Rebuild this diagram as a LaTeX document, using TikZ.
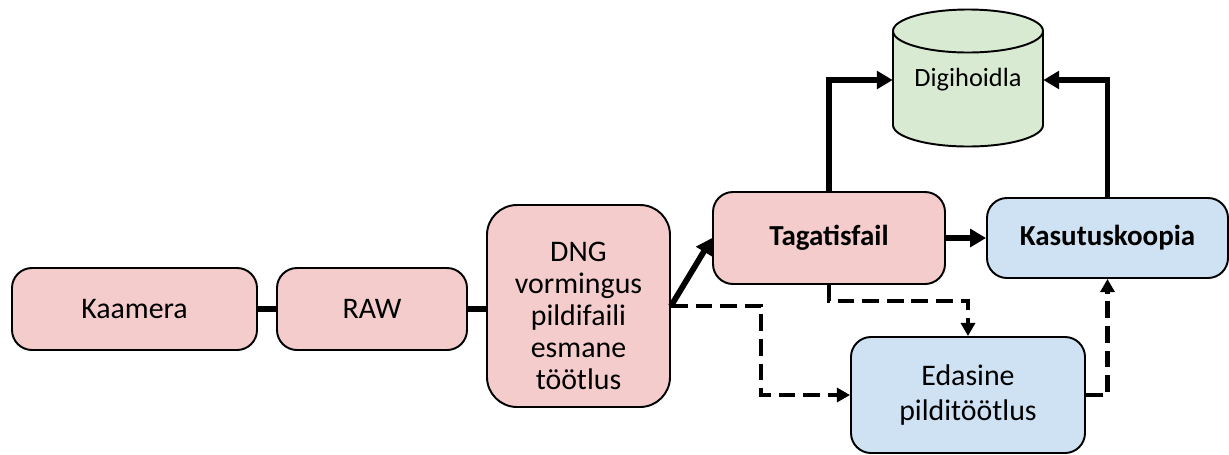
\documentclass[tikz,border=0pt]{standalone}
\usepackage{fontspec}
\setmainfont{Carlito}
\usetikzlibrary{arrows.meta}
\definecolor{pinkfill}{HTML}{F4CCCC}
\definecolor{bluefill}{HTML}{CFE2F3}
\definecolor{greenfill}{HTML}{D9EAD3}
\tikzset{
  box/.style={draw=black, line width=1.1pt, rounded corners=0.4cm, inner sep=2pt, align=center,
    font=\fontsize{17}{19.5}\selectfont},
  pinkbox/.style={box, fill=pinkfill},
  bluebox/.style={box, fill=bluefill},
  boldtext/.style={font=\fontsize{16.5}{19.5}\selectfont\bfseries},
  thickline/.style={line width=3.3pt},
  thickarrow/.style={line width=3.3pt, -{Triangle[length=9pt,width=10pt]}},
  dasharrow/.style={line width=2.3pt, dash pattern=on 9.5pt off 4.5pt, -{Triangle[length=7.5pt,width=8pt]}}
}
\begin{document}
\begin{tikzpicture}
\useasboundingbox (0,0) rectangle (24.58,-9.08);
% cylinder
\fill[greenfill] (17.86,-0.62) -- (17.86,-2.5) arc[start angle=180,end angle=360,x radius=1.5,y radius=0.43]
  -- (20.86,-0.62) arc[start angle=0,end angle=180,x radius=1.5,y radius=0.43] -- cycle;
\draw[line width=1.1pt] (17.86,-0.62) -- (17.86,-2.5) arc[start angle=180,end angle=360,x radius=1.5,y radius=0.43]
  -- (20.86,-0.62);
\draw[line width=1.1pt] (19.36,-0.62) ellipse[x radius=1.5,y radius=0.43];
\node[minimum width=3cm, inner sep=0, font=\fontsize{15}{18}\selectfont] (dh) at (19.36,-1.6) {Digihoidla};

\node[pinkbox, minimum width=4.9cm, minimum height=1.64cm] (kam) at (2.69,-6.18) {Kaamera};
\node[pinkbox, minimum width=3.8cm, minimum height=1.64cm] (raw) at (7.44,-6.18) {RAW};
\node[pinkbox, minimum width=3.66cm, minimum height=4.04cm, rounded corners=0.6cm] (dng) at (11.57,-6.12) {};
\node[align=center, inner sep=0, font=\fontsize{17}{18.3}\selectfont] (dngt) at ([yshift=-0.2cm]dng.center)
  {DNG\\vormingus\\pildifaili\\esmane\\töötlus};
\node[pinkbox, boldtext, minimum width=4.64cm, minimum height=1.84cm] (tf) at (16.58,-4.76) {Tagatisfail};
\node[bluebox, boldtext, minimum width=4.82cm, minimum height=1.6cm] (ks) at (22.15,-4.76) {Kasutuskoopia};
\node[bluebox, minimum width=4.68cm, minimum height=2.32cm] (ed) at (19.36,-7.9) {Edasine\\pilditöötlus};

\draw[thickline] (kam.east) -- (raw.west);
\draw[thickline] (raw.east) -- (raw.east -| dng.west);
\draw[thickarrow] (dng.east) -- (tf.west);
\draw[thickarrow] (tf.east) -- (ks.west);
\draw[thickarrow] (tf.north) |- (dh.west);
\draw[thickarrow] (ks.north) |- (dh.east);
\draw[dasharrow] (dng.east) -- ++(1.8,0) |- (ed.west);
\draw[dasharrow] (tf.south) -- ++(0,-0.32) -| (ed.north);
\draw[dasharrow] (ed.east) -| (ks.south);
\end{tikzpicture}
\end{document}
